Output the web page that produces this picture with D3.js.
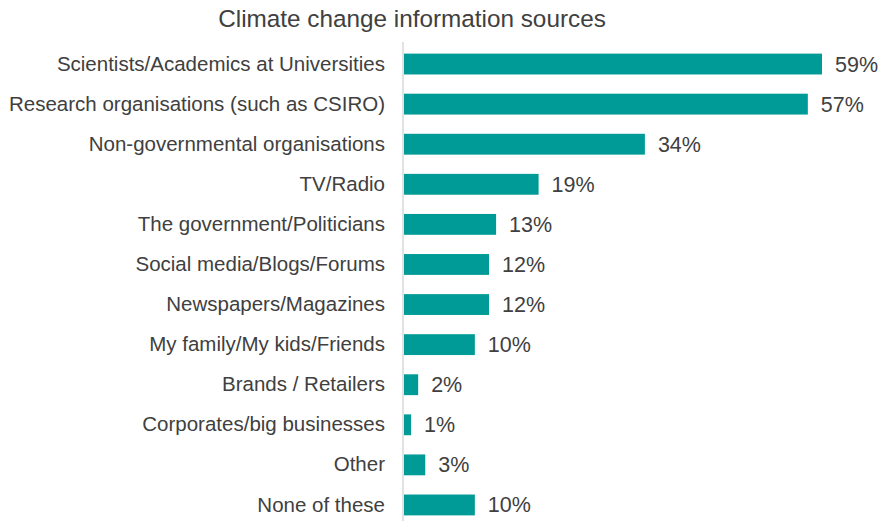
<!DOCTYPE html>
<html>
<head>
<meta charset="utf-8">
<script src="https://cdn.jsdelivr.net/npm/d3@7"></script>
<style>
  html, body { margin: 0; padding: 0; background: #ffffff; }
  svg { display: block; }
  text { font-family: "Liberation Sans", Arial, sans-serif; fill: #404040; }
</style>
</head>
<body>
<div id="chart"></div>
<script>
// Survey answers: where people get climate change information (%)
const title = "Climate change information sources";
const categories = [
  "Scientists/Academics at Universities",
  "Research organisations (such as CSIRO)",
  "Non-governmental organisations",
  "TV/Radio",
  "The government/Politicians",
  "Social media/Blogs/Forums",
  "Newspapers/Magazines",
  "My family/My kids/Friends",
  "Brands / Retailers",
  "Corporates/big businesses",
  "Other",
  "None of these"
];
const values = [59, 57, 34, 19, 13, 12, 12, 10, 2, 1, 3, 10];

const width = 885, height = 521;
const margin = { top: 44, right: 0, bottom: 0, left: 404 };

const svg = d3.select("#chart").append("svg")
  .attr("width", width)
  .attr("height", height);

const x = d3.scaleLinear()
  .domain([0, 59])
  .range([margin.left, 822]);

const y = d3.scaleBand()
  .domain(categories)
  .range([margin.top, 525])
  .paddingInner(0.48)
  .paddingOuter(0.24);

// Title
svg.append("text")
  .attr("x", 412)
  .attr("y", 27)
  .attr("text-anchor", "middle")
  .style("font-size", "24.3px")
  .text(title);

// Bars
svg.append("g")
  .selectAll("rect")
  .data(values)
  .join("rect")
  .attr("x", x(0))
  .attr("y", (d, i) => y(categories[i]))
  .attr("width", d => x(d) - x(0))
  .attr("height", y.bandwidth())
  .attr("fill", "#009b96");

// Category axis (labels only, with a light vertical baseline)
const yAxis = svg.append("g")
  .attr("transform", `translate(${margin.left - 1},0)`)
  .call(d3.axisLeft(y).tickSize(0).tickPadding(18));
yAxis.select(".domain")
  .attr("stroke", "#d9d9d9")
  .attr("stroke-width", 1.5)
  .attr("d", `M0,${margin.top - 2}V${height}`);
yAxis.selectAll("text")
  .style("font-size", "20.5px")
  .style("font-family", "'Liberation Sans', Arial, sans-serif")
  .attr("fill", "#404040");

// Value labels
svg.append("g")
  .selectAll("text")
  .data(values)
  .join("text")
  .attr("x", d => x(d) + 13)
  .attr("y", (d, i) => y(categories[i]) + y.bandwidth() / 2)
  .attr("dy", "0.35em")
  .style("font-size", "21.5px")
  .text(d => d + "%");
</script>
</body>
</html>
